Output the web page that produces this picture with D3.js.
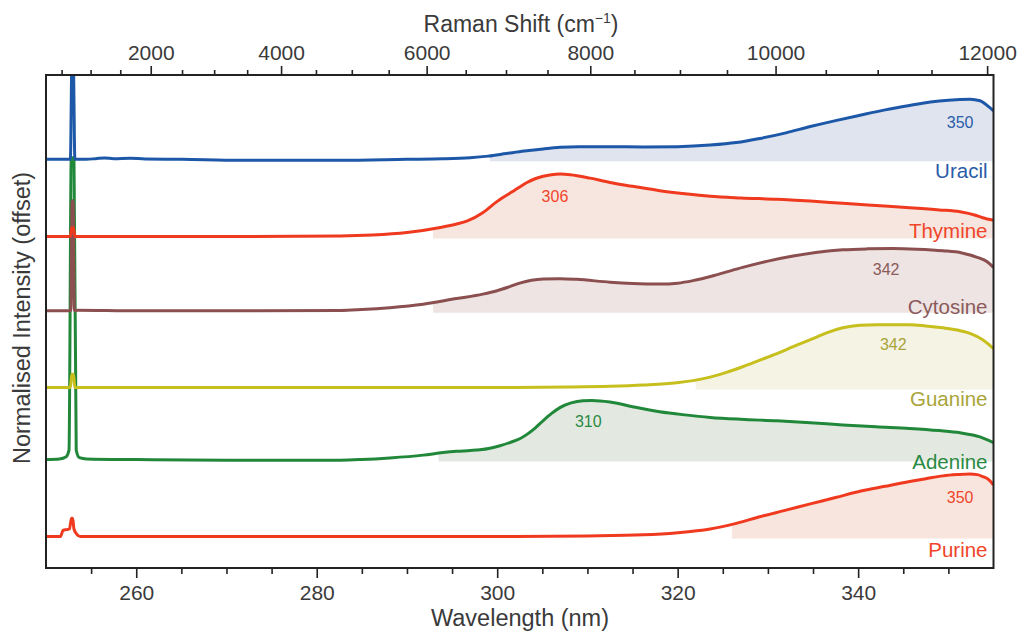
<!DOCTYPE html>
<html>
<head>
<meta charset="utf-8">
<script src="https://cdn.jsdelivr.net/npm/d3@7"></script>
<style>
  body { margin: 0; background: #fff; }
  svg { display: block; font-family: "Liberation Sans", Arial, sans-serif; }
</style>
</head>
<body>
<div id="spectra"></div>
<script>
// Spectra: [wavelength (nm), normalised intensity]
const uracil = [
  [250, 0], [252.7, 0], [252.88, 1.6], [253.02, 1.6], [253.2, 0], [254.5, 0], [255.5, 0.01], [256.5, 0.022],
  [257.5, 0.01], [259.3, 0.018], [261, 0.005], [265, 0], [271.5, -0.015], [282.6, -0.015], [290, 0],
  [294, 0.008], [297, 0.025], [299, 0.05], [301, 0.09], [303, 0.13], [305.1, 0.165], [307, 0.19], [309, 0.2],
  [312.5, 0.2], [316.2, 0.195], [320, 0.2], [323.6, 0.225], [326.5, 0.265], [329.1, 0.33], [332, 0.42],
  [334.7, 0.52], [337.5, 0.615], [340.2, 0.7], [343, 0.785], [345.7, 0.855], [348, 0.91], [350, 0.94],
  [352.4, 0.955], [353.5, 0.93], [354.6, 0.82], [355, 0.77]
];
const thymine = [
  [250, 0], [252.7, 0], [252.85, 0.14], [253.05, 0.14], [253.2, 0], [260, 0], [270, 0], [282.6, 0.01],
  [286.2, 0.025], [290, 0.065], [293.7, 0.145], [295.5, 0.2], [296.7, 0.25], [298.4, 0.38], [300, 0.56],
  [301.4, 0.69], [302.5, 0.79], [303.3, 0.86], [304.2, 0.92], [305.1, 0.96], [306, 0.985], [307, 0.995],
  [308.1, 0.985], [310.3, 0.93], [312.5, 0.86], [315, 0.8], [318, 0.73], [320.8, 0.68], [323.6, 0.64],
  [327, 0.615], [331, 0.595], [334.7, 0.565], [338.3, 0.53], [342, 0.495], [345.7, 0.46], [349, 0.425],
  [351.3, 0.395], [353, 0.34], [353.8, 0.3], [355, 0.26]
];
const cytosine = [
  [250, 0], [252.75, 0], [252.9, 1.75], [253.0, 1.75], [253.15, 0], [253.5, 0.01], [260, 0], [282.6, 0.005],
  [285, 0.02], [288.1, 0.05], [291.8, 0.105], [295.5, 0.195], [298.4, 0.265], [300, 0.32], [301.4, 0.385],
  [302.5, 0.44], [303.8, 0.485], [305.1, 0.505], [307, 0.51], [308.8, 0.5], [312.5, 0.455], [315, 0.435],
  [318, 0.425], [320, 0.44], [321.7, 0.48], [324.5, 0.58], [327.2, 0.69], [330, 0.79], [332.8, 0.87],
  [335.5, 0.93], [338.3, 0.97], [341, 0.985], [343.9, 0.99], [346.5, 0.98], [349.4, 0.955], [351.5, 0.92],
  [353.2, 0.85], [354.3, 0.78], [355, 0.69]
];
const guanine = [
  [250, 0], [252.7, 0], [252.85, 0.21], [253.05, 0.21], [253.2, 0], [260, 0], [300, 0], [308, 0.008],
  [312.5, 0.02], [316.2, 0.04], [319.9, 0.075], [321.7, 0.11], [323.6, 0.165], [325.4, 0.24], [327.2, 0.33],
  [329.1, 0.435], [331, 0.54], [332.8, 0.65], [334.7, 0.76], [336.5, 0.87], [338.3, 0.95], [340.2, 0.99],
  [342.1, 1.0], [345.7, 1.0], [347.5, 0.98], [349.4, 0.95], [351, 0.915], [352.4, 0.86], [353.8, 0.76], [355, 0.62]
];
const adenine = [
  [250, 0], [251.5, 0.01], [252.2, 0.04], [252.55, 0.15], [252.8, 4.8], [253.1, 4.8], [253.35, 0.15],
  [253.7, 0.03], [254.5, 0.01], [260, 0], [270, -0.01], [282.6, -0.01], [285, 0], [288.1, 0.025],
  [291.8, 0.07], [294, 0.11], [295.5, 0.13], [297, 0.143], [298.1, 0.155], [299.2, 0.18], [300.3, 0.22],
  [301.4, 0.27], [302.5, 0.33], [303.3, 0.4], [304.2, 0.5], [305.1, 0.62], [306, 0.73], [307, 0.83],
  [308.2, 0.9], [309.5, 0.935], [310.5, 0.94], [312.5, 0.915], [315, 0.84], [318, 0.76], [320.8, 0.71],
  [323.6, 0.67], [327, 0.64], [331, 0.615], [334.7, 0.585], [338.3, 0.55], [342, 0.52], [345.7, 0.495],
  [349, 0.46], [351.3, 0.425], [353.5, 0.36], [355, 0.27]
];
const purine = [
  [250, 0], [251.6, 0], [251.9, 0.1], [252.3, 0.11], [252.6, 0.12], [252.82, 0.29], [252.95, 0.29],
  [253.1, 0.12], [253.4, 0.04], [253.8, 0], [260, 0], [300, 0], [310, 0.01], [316.2, 0.027], [320, 0.06],
  [323.6, 0.12], [326.5, 0.21], [329.1, 0.315], [332, 0.42], [334.7, 0.52], [337.5, 0.62], [340.2, 0.72],
  [343, 0.8], [345.7, 0.875], [347.5, 0.92], [349.4, 0.965], [351, 0.985], [352.4, 0.995], [353.2, 0.985],
  [353.8, 0.955], [354.5, 0.9], [355, 0.82]
];

// Series, drawn from the bottom trace up
const names = ["Purine", "Adenine", "Guanine", "Cytosine", "Thymine", "Uracil"];
const spectra = [purine, adenine, guanine, cytosine, thymine, uracil];
const offsets = [0, 1.225, 2.37, 3.59, 4.77, 6.0];
const peakLabels = ["350", "310", "342", "342", "306", "350"];
const fillStarts = [326, 293.5, 322, 292.9, 292.9, 299.2];

// Axis ticks
const wavelengthTicks = [260, 280, 300, 320, 340];
const wavelengthMinorTicks = d3.range(255, 355, 5).filter(d => d % 20 !== 0);
const shiftTicks = [2000, 4000, 6000, 8000, 10000, 12000];
const shiftMinorTicks = d3.range(500, 12001, 500).filter(d => d % 2000 !== 0);
const laserWavelength = 248.6;

// Styles
const lineColors = ["#f03a20", "#21883a", "#c6bf1d", "#8b4f50", "#f03a1f", "#1d58a8"];
const fillColors = ["#f8e5de", "#e3e9e1", "#f5f3e4", "#ede4e3", "#f6e6df", "#dfe4ef"];
const textColors = ["#f0452a", "#2a8a44", "#a9a43a", "#8b5a5a", "#f0452a", "#2a5ca8"];
const peakLabelPos = [[351.3, 0.6], [310.1, 0.585], [343.9, 0.67], [343.1, 0.636], [306.4, 0.62], [351.3, 0.557]];
const nameDy = [15, 4, 12.7, -2.5, -4, 13.4];

const drawSpectra = () => {

  /*******************************/
  /*    Declare the constants    */
  /*******************************/
  const width = 1018;
  const height = 634;
  const frame = {left: 46, right: 993.5, top: 75, bottom: 568};
  const axisColor = "#222";
  const textColor = "#3a3a3a";


  /*******************************/
  /*    Append the containers    */
  /*******************************/
  const svg = d3.select("#spectra")
    .append("svg")
      .attr("width", width)
      .attr("height", height)
      .attr("viewBox", `0, 0, ${width}, ${height}`);

  svg.append("defs")
    .append("clipPath")
      .attr("id", "plot-clip")
    .append("rect")
      .attr("x", frame.left)
      .attr("y", frame.top)
      .attr("width", frame.right - frame.left)
      .attr("height", frame.bottom - frame.top);


  /****************************/
  /*    Declare the scales    */
  /****************************/
  const xScale = d3.scaleLinear()
    .domain([250, 355])
    .range([frame.left, frame.right]);

  const yScale = d3.scaleLinear()
    .domain([-0.5, 7.34])
    .range([frame.bottom, frame.top]);

  // Raman shift (cm-1) relative to the laser line, mapped onto the wavelength axis
  const shiftToWavelength = s => 1e7 / (1e7 / laserWavelength - s);
  const shiftScale = s => xScale(shiftToWavelength(s));
  shiftScale.domain = () => [0, 12000];
  shiftScale.range = () => xScale.range();
  shiftScale.copy = () => shiftScale;


  /********************************/
  /*    Append the spectra         */
  /********************************/
  const plot = svg
    .append("g")
      .attr("clip-path", "url(#plot-clip)");

  spectra.forEach((spectrum, i) => {
    const offset = offsets[i];

    const areaGenerator = d3.area()
      .x(d => xScale(d[0]))
      .y0(yScale(offset - 0.03))
      .y1(d => yScale(offset + d[1]))
      .curve(d3.curveMonotoneX);

    const lineGenerator = d3.line()
      .x(d => xScale(d[0]))
      .y(d => yScale(offset + d[1]))
      .curve(d3.curveMonotoneX);

    const clipId = `fill-clip-${i}`;
    svg.select("defs")
      .append("clipPath")
        .attr("id", clipId)
      .append("rect")
        .attr("x", xScale(fillStarts[i]))
        .attr("y", frame.top)
        .attr("width", frame.right - xScale(fillStarts[i]))
        .attr("height", frame.bottom - frame.top);

    const group = plot
      .append("g")
        .attr("class", `spectrum-${names[i].toLowerCase()}`);

    group
      .append("path")
        .datum(spectrum)
        .attr("d", areaGenerator)
        .attr("clip-path", `url(#${clipId})`)
        .attr("fill", fillColors[i]);

    group
      .append("path")
        .datum(spectrum)
        .attr("d", lineGenerator)
        .attr("fill", "none")
        .attr("stroke", lineColors[i])
        .attr("stroke-width", 3)
        .attr("stroke-linejoin", "round");
  });


  /****************************/
  /*    Append the labels     */
  /****************************/
  names.forEach((name, i) => {
    svg
      .append("text")
        .text(name)
        .attr("x", frame.right - 6)
        .attr("y", yScale(offsets[i]) + nameDy[i])
        .attr("text-anchor", "end")
        .attr("dominant-baseline", "middle")
        .attr("fill", textColors[i])
        .style("font-size", "20.5px");

    svg
      .append("text")
        .text(peakLabels[i])
        .attr("x", xScale(peakLabelPos[i][0]))
        .attr("y", yScale(offsets[i] + peakLabelPos[i][1]))
        .attr("text-anchor", "middle")
        .attr("dominant-baseline", "middle")
        .attr("fill", textColors[i])
        .style("font-size", "16px");
  });


  /****************************/
  /*    Append the axes       */
  /****************************/
  const styleAxis = (g) => {
    g.select(".domain").remove();
    g.selectAll(".tick line")
      .attr("stroke", axisColor)
      .attr("stroke-width", 1.6);
    g.selectAll(".tick text")
      .attr("fill", textColor)
      .style("font-size", "21px")
      .style("font-family", "'Liberation Sans', Arial, sans-serif");
  };

  // Bottom: wavelength
  svg
    .append("g")
      .attr("transform", `translate(0, ${frame.bottom})`)
      .call(d3.axisBottom(xScale).tickValues(wavelengthTicks).tickSize(10).tickPadding(7).tickSizeOuter(0))
      .call(styleAxis);

  svg
    .append("g")
      .attr("transform", `translate(0, ${frame.bottom})`)
      .call(d3.axisBottom(xScale).tickValues(wavelengthMinorTicks).tickSize(6).tickFormat("").tickSizeOuter(0))
      .call(styleAxis);

  // Top: Raman shift
  svg
    .append("g")
      .attr("transform", `translate(0, ${frame.top})`)
      .call(d3.axisTop(shiftScale).tickValues(shiftTicks).tickFormat(d => d).tickSize(9).tickPadding(6).tickSizeOuter(0))
      .call(styleAxis);

  svg
    .append("g")
      .attr("transform", `translate(0, ${frame.top})`)
      .call(d3.axisTop(shiftScale).tickValues(shiftMinorTicks).tickFormat("").tickSize(5).tickSizeOuter(0))
      .call(styleAxis);

  // Frame
  svg
    .append("rect")
      .attr("x", frame.left)
      .attr("y", frame.top)
      .attr("width", frame.right - frame.left)
      .attr("height", frame.bottom - frame.top)
      .attr("fill", "none")
      .attr("stroke", axisColor)
      .attr("stroke-width", 2);


  /****************************/
  /*    Append axis titles    */
  /****************************/
  const topTitle = svg
    .append("text")
      .attr("x", 521)
      .attr("y", 32)
      .attr("text-anchor", "middle")
      .attr("fill", textColor)
      .style("font-size", "23px");
  topTitle.append("tspan").text("Raman Shift (cm");
  topTitle.append("tspan").text("−1").attr("dy", -9).style("font-size", "14px");
  topTitle.append("tspan").text(")").attr("dy", 9);

  svg
    .append("text")
      .text("Wavelength (nm)")
      .attr("x", 520)
      .attr("y", 626)
      .attr("text-anchor", "middle")
      .attr("fill", textColor)
      .style("font-size", "23.5px");

  svg
    .append("text")
      .text("Normalised Intensity (offset)")
      .attr("transform", "translate(30, 318) rotate(-90)")
      .attr("text-anchor", "middle")
      .attr("fill", textColor)
      .style("font-size", "23.5px");

};

drawSpectra();
</script>
</body>
</html>
